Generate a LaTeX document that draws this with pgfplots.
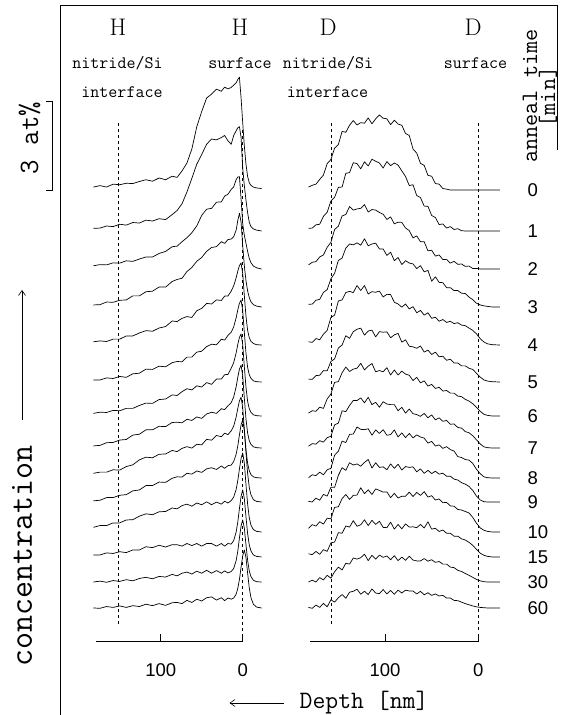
\documentclass[border=0pt]{standalone}
\usepackage{pgfplots}
\pgfplotsset{compat=1.18}
\usepackage{pgfplotstable}
\usepackage{fontspec}
\usetikzlibrary{arrows.meta}
\newfontfamily\numfont{Liberation Sans}

% H depth profiles: depth [nm], concentration [at%] for each anneal time
\pgfplotstableread{
d c0 c1 c2 c3 c4 c5 c6 c7 c8 c9 c10 c15 c30 c60
182 0.10 0.09 0.11 0.07 0.11 0.07 0.09 0.07 0.16 0.04 0.16 0.07 0.00 0.00
174 0.15 0.10 0.15 0.08 0.14 0.07 0.13 0.09 0.20 0.06 0.22 0.07 0.03 -0.01
166 0.10 0.17 0.14 0.17 0.12 0.14 0.12 0.18 0.20 0.15 0.22 0.14 -0.01 0.05
158 0.20 0.15 0.21 0.16 0.20 0.12 0.19 0.19 0.28 0.15 0.31 0.12 0.05 0.02
150 0.18 0.23 0.20 0.23 0.20 0.19 0.18 0.27 0.27 0.23 0.31 0.18 0.02 0.07
142 0.23 0.20 0.28 0.24 0.31 0.16 0.26 0.29 0.39 0.25 0.41 0.15 0.08 0.02
134 0.22 0.29 0.26 0.38 0.31 0.28 0.26 0.44 0.45 0.38 0.42 0.24 0.04 0.08
126 0.29 0.27 0.34 0.38 0.41 0.30 0.36 0.47 0.62 0.41 0.54 0.24 0.12 0.05
118 0.35 0.37 0.41 0.52 0.49 0.44 0.44 0.62 0.71 0.56 0.62 0.35 0.16 0.13
110 0.30 0.34 0.41 0.54 0.47 0.43 0.43 0.62 0.69 0.56 0.59 0.32 0.11 0.08
102 0.41 0.42 0.53 0.68 0.58 0.54 0.56 0.74 0.81 0.68 0.69 0.40 0.19 0.15
94 0.35 0.39 0.60 0.68 0.63 0.52 0.58 0.73 0.82 0.67 0.70 0.34 0.17 0.09
86 0.47 0.56 0.76 0.87 0.82 0.66 0.72 0.87 0.94 0.81 0.82 0.42 0.26 0.18
80 0.43 0.70 0.78 0.94 0.80 0.70 0.70 0.88 0.90 0.86 0.79 0.42 0.21 0.19
74 0.65 0.93 0.93 0.98 0.91 0.69 0.83 0.86 1.01 0.85 0.90 0.37 0.30 0.15
68 0.92 1.33 1.07 1.21 0.97 0.85 0.93 0.98 1.07 0.98 0.95 0.46 0.34 0.26
62 1.40 1.80 1.24 1.35 0.94 0.85 0.89 0.94 1.02 0.95 0.88 0.39 0.27 0.19
56 2.16 2.28 1.47 1.56 1.17 1.02 1.03 1.06 1.15 1.06 0.99 0.46 0.37 0.30
50 2.68 2.61 1.83 1.69 1.25 1.05 0.99 1.01 1.13 1.01 0.93 0.37 0.30 0.24
44 3.14 2.96 2.04 1.90 1.42 1.21 1.14 1.16 1.32 1.13 1.03 0.46 0.40 0.35
38 3.27 3.14 2.07 2.03 1.40 1.29 1.08 1.22 1.29 1.17 0.93 0.46 0.30 0.38
32 3.44 3.11 2.28 2.06 1.54 1.27 1.26 1.18 1.45 1.11 1.02 0.37 0.39 0.27
26 3.37 3.19 2.29 2.23 1.52 1.46 1.26 1.34 1.41 1.23 0.95 0.46 0.30 0.35
22 3.51 3.26 2.49 2.17 1.67 1.43 1.41 1.31 1.53 1.15 1.05 0.37 0.38 0.25
18 3.45 3.08 2.55 2.30 1.67 1.59 1.42 1.44 1.48 1.24 0.99 0.46 0.31 0.34
14 3.50 2.96 2.72 2.32 1.84 1.70 1.63 1.55 1.61 1.26 1.07 0.44 0.36 0.30
11 3.58 3.26 2.80 2.40 2.02 1.88 1.82 1.74 1.77 1.38 1.19 0.56 0.46 0.34
8 3.66 3.42 3.05 2.62 2.29 2.19 2.15 2.09 2.08 1.63 1.45 0.85 0.73 0.47
6 3.77 3.52 3.14 2.95 2.52 2.46 2.44 2.41 2.37 1.91 1.75 1.19 1.05 0.67
4 3.85 3.56 3.15 3.20 2.71 2.69 2.68 2.69 2.63 2.29 2.15 1.65 1.50 0.97
2 3.15 3.20 2.40 2.90 2.80 2.80 2.80 2.83 2.76 2.63 2.51 2.07 1.91 1.39
0 2.30 2.15 1.55 2.10 2.44 2.44 2.44 2.46 2.40 2.80 2.70 2.29 2.12 1.78
-2 1.50 1.55 1.15 1.40 1.68 1.68 1.68 1.70 1.66 2.44 2.35 1.99 1.84 1.98
-4 0.88 1.05 0.88 0.90 0.98 0.98 0.98 0.99 0.97 1.68 1.62 1.37 1.27 1.72
-6 0.46 0.62 0.60 0.55 0.50 0.50 0.50 0.51 0.50 0.98 0.95 0.80 0.74 1.19
-8 0.25 0.30 0.36 0.32 0.25 0.25 0.25 0.25 0.25 0.50 0.49 0.41 0.38 0.69
-10 0.16 0.15 0.22 0.18 0.13 0.13 0.13 0.13 0.12 0.25 0.24 0.21 0.19 0.36
-13 0.10 0.07 0.10 0.08 0.05 0.04 0.04 0.04 0.04 0.08 0.08 0.07 0.06 0.13
-17 0.07 0.03 0.04 0.03 0.01 0.01 0.01 0.01 0.01 0.02 0.02 0.02 0.01 0.03
-23 0.05 0.00 0.00 0.00 0.00 0.00 0.00 0.00 0.00 0.00 0.00 0.00 0.00 0.00
}\Htab

% D depth profiles
\pgfplotstableread{
d c0 c1 c2 c3 c4 c5 c6 c7 c8 c9 c10 c15 c30 c60
182 0.10 0.09 0.14 0.09 0.11 0.10 0.10 0.06 0.01 0.02 0.12 0.11 0.00 0.02
178 0.16 0.10 0.23 0.10 0.09 0.09 0.18 0.15 0.11 0.00 0.25 0.08 0.06 -0.01
174 0.20 0.21 0.25 0.23 0.22 0.22 0.16 0.13 0.08 0.13 0.20 0.19 0.00 0.10
170 0.36 0.23 0.41 0.26 0.18 0.23 0.30 0.25 0.20 0.06 0.35 0.09 0.15 0.02
166 0.51 0.50 0.48 0.50 0.37 0.39 0.26 0.20 0.11 0.26 0.27 0.25 0.07 0.16
162 0.90 0.64 0.74 0.59 0.50 0.38 0.58 0.35 0.28 0.20 0.47 0.19 0.23 0.04
158 1.04 1.02 0.91 0.96 0.94 0.70 0.75 0.40 0.33 0.50 0.45 0.48 0.13 0.28
154 1.43 1.15 1.35 1.15 1.02 0.79 1.15 0.79 0.78 0.50 0.84 0.51 0.35 0.20
150 1.55 1.49 1.46 1.59 1.50 1.16 1.17 0.85 0.91 0.91 0.86 0.83 0.51 0.35
146 2.00 1.50 1.81 1.67 1.54 1.26 1.48 1.27 1.26 1.17 1.14 0.81 0.41 0.46
142 1.97 1.97 1.86 2.01 1.79 1.58 1.67 1.24 1.21 1.08 1.28 1.06 0.64 0.33
138 2.21 1.99 2.13 2.15 1.83 1.49 1.52 1.45 1.49 1.34 1.11 1.02 0.61 0.54
134 2.37 2.33 2.01 2.12 1.79 1.72 1.60 1.62 1.50 1.26 1.25 1.24 0.82 0.57
130 2.22 2.30 2.05 2.19 2.03 1.80 1.63 1.62 1.74 1.30 1.26 1.05 0.78 0.64
126 2.30 2.12 2.07 2.11 1.86 1.84 1.80 1.71 1.66 1.22 1.51 1.10 0.83 0.47
122 2.28 2.36 2.20 2.33 2.03 1.60 1.57 1.54 1.65 1.35 1.31 1.27 0.95 0.57
118 2.46 2.22 1.94 2.09 1.74 1.74 1.70 1.73 1.68 1.45 1.44 1.07 0.73 0.46
114 2.26 2.45 2.03 2.15 1.82 1.77 1.79 1.48 1.46 1.16 1.28 1.25 0.91 0.65
110 2.43 2.38 2.01 2.18 1.80 1.54 1.51 1.56 1.64 1.34 1.47 1.11 0.78 0.51
106 2.56 2.32 1.93 1.98 1.84 1.72 1.55 1.39 1.52 1.18 1.42 1.22 0.92 0.49
102 2.45 2.15 1.87 1.98 1.64 1.70 1.51 1.58 1.65 1.20 1.36 1.01 0.84 0.63
98 2.43 2.37 1.69 1.76 1.73 1.71 1.65 1.50 1.46 1.10 1.37 1.00 0.89 0.48
94 2.23 2.23 1.78 1.87 1.72 1.51 1.40 1.48 1.48 1.30 1.17 1.19 0.76 0.60
90 2.38 2.32 1.54 1.58 1.46 1.61 1.57 1.48 1.64 1.15 1.32 0.95 0.90 0.47
86 2.25 2.25 1.60 1.69 1.40 1.66 1.40 1.27 1.40 1.29 1.16 1.11 0.73 0.61
82 2.21 2.05 1.59 1.45 1.29 1.36 1.53 1.39 1.54 1.09 1.22 0.96 0.85 0.51
78 1.93 1.86 1.40 1.58 1.40 1.44 1.43 1.19 1.38 1.21 1.22 1.13 0.74 0.61
74 1.86 1.55 1.31 1.50 1.23 1.22 1.39 1.33 1.52 1.18 1.36 1.02 0.88 0.58
70 1.40 1.58 1.06 1.47 1.31 1.20 1.21 1.17 1.37 1.20 1.21 1.03 0.75 0.58
66 1.26 1.21 1.13 1.31 1.10 1.15 1.32 1.14 1.47 1.03 1.35 1.00 0.72 0.48
62 0.91 1.14 0.93 1.41 1.18 1.23 1.13 1.08 1.40 1.13 1.25 1.11 0.72 0.57
58 0.84 0.85 0.93 1.20 1.02 1.02 1.20 1.18 1.36 0.98 1.38 0.99 0.80 0.45
54 0.50 0.84 0.62 1.25 1.10 1.09 1.02 1.03 1.19 1.08 1.19 1.20 0.71 0.52
50 0.47 0.53 0.64 0.88 0.91 0.94 1.08 1.13 1.25 0.97 1.24 0.95 0.76 0.43
46 0.22 0.46 0.44 1.03 0.95 1.02 0.94 0.96 1.09 1.05 1.09 0.98 0.67 0.48
42 0.20 0.22 0.48 0.84 0.81 0.86 0.98 1.03 1.13 0.95 1.13 0.87 0.70 0.41
38 0.05 0.24 0.32 0.83 0.87 0.88 0.85 0.91 1.01 0.98 1.00 0.92 0.61 0.43
34 0.03 0.10 0.33 0.66 0.77 0.74 0.87 0.94 1.07 0.88 1.01 0.81 0.61 0.34
30 0.00 0.15 0.20 0.66 0.81 0.78 0.78 0.81 0.97 0.88 0.89 0.81 0.51 0.34
26 0.00 0.05 0.26 0.56 0.73 0.65 0.78 0.82 0.92 0.78 0.88 0.71 0.49 0.26
22 0.00 0.08 0.16 0.56 0.76 0.65 0.68 0.70 0.73 0.75 0.77 0.71 0.40 0.25
18 0.00 0.01 0.17 0.47 0.68 0.55 0.66 0.68 0.70 0.66 0.75 0.62 0.36 0.20
14 0.00 0.00 0.09 0.46 0.66 0.55 0.57 0.56 0.63 0.61 0.70 0.58 0.29 0.15
10 0.00 0.00 0.10 0.34 0.58 0.47 0.51 0.52 0.61 0.53 0.65 0.50 0.23 0.11
6 0.00 0.00 0.02 0.25 0.50 0.43 0.42 0.42 0.50 0.40 0.50 0.40 0.16 0.07
2 0.00 0.00 0.02 0.13 0.38 0.30 0.30 0.28 0.30 0.20 0.30 0.26 0.09 0.04
-2 0.00 0.00 0.00 0.07 0.22 0.17 0.16 0.14 0.15 0.07 0.14 0.13 0.04 0.02
-6 0.00 0.00 0.00 0.04 0.10 0.07 0.06 0.04 0.04 0.01 0.06 0.06 0.01 0.01
-10 0.00 0.00 0.00 0.02 0.04 0.03 0.02 0.01 0.01 0.00 0.02 0.02 0.00 0.00
-15 0.00 0.00 0.00 0.00 0.01 0.01 0.00 0.00 0.00 0.00 0.00 0.00 0.00 0.00
-23 0.00 0.00 0.00 0.00 0.00 0.00 0.00 0.00 0.00 0.00 0.00 0.00 0.00 0.00
}\Dtab

\pgfplotsset{
  profile/.style={black, line width=0.7pt, line join=round, no markers},
  panel/.style={anchor=south west, scale only axis, height=715pt,
    x dir=reverse, xmin=-30, xmax=185, ymin=-3.652, ymax=20.751,
    axis lines=none, clip=false},
}
\newcommand{\numsize}{\numfont\fontsize{18.5}{20}\selectfont}

\begin{document}
\begin{tikzpicture}[x=1pt,y=1pt]
\path[use as bounding box] (0,0) rectangle (566,715);
% frame
\draw[line width=0.8pt] (60,0) -- (60,710) -- (557,710) -- (557,565);
% left label
\node[rotate=90, anchor=west, inner sep=0pt, font=\ttfamily\fontsize{33}{33}\selectfont] at (22,48) {concentration};
\draw[-{Straight Barb[length=5pt,width=7pt]}, line width=0.6pt] (22,295) -- (22,425);
% scale bar
\node[rotate=90, inner sep=0pt, font=\ttfamily\fontsize{28}{28}\selectfont] at (29.5,577) {3 at\%};
\draw[line width=0.7pt] (46,613.3) -- (52,613.3) -- (52,525) -- (46,525);
% titles
\node[font=\fontsize{24}{24}\selectfont] at (118,688) {H};
\node[font=\fontsize{24}{24}\selectfont] at (240,688) {H};
\node[font=\fontsize{24}{24}\selectfont] at (328,688) {D};
\node[font=\fontsize{24}{24}\selectfont] at (473,688) {D};
\node[font=\ttfamily\fontsize{17.5}{20}\selectfont] at (117.5,652) {nitride/Si};
\node[font=\ttfamily\fontsize{17.5}{20}\selectfont] at (122,623) {interface};
\node[font=\ttfamily\fontsize{17.5}{20}\selectfont] at (240,652) {surface};
\node[font=\ttfamily\fontsize{17.5}{20}\selectfont] at (328,652) {nitride/Si};
\node[font=\ttfamily\fontsize{17.5}{20}\selectfont] at (327.5,623) {interface};
\node[font=\ttfamily\fontsize{17.5}{20}\selectfont] at (475.5,652) {surface};
\node[rotate=90, font=\ttfamily\fontsize{23.5}{24}\selectfont] at (530,619) {anneal time};
\node[rotate=90, font=\ttfamily\fontsize{23.5}{24}\selectfont] at (548,618) {[min]};
% x label
\node[font=\ttfamily\fontsize{25}{25}\selectfont] at (364,12) {Depth [nm]};
\draw[-{Straight Barb[length=5pt,width=7pt]}, line width=0.6pt] (283.7,12) -- (229.5,12);

% ---------------- H panel ----------------
\begin{axis}[panel, at={(91pt,0pt)}, width=176.3pt]
\draw[dashed, line width=0.5pt] (axis cs:151.7,16.55) -- (axis cs:151.7,-0.58);
\draw[dashed, line width=0.5pt] (axis cs:0,16.3) -- (axis cs:0,-0.82);
\addplot[profile] table[x=d, y expr=\thisrow{c0}+14.266] {\Htab};
\addplot[profile] table[x=d, y expr=\thisrow{c1}+12.867] {\Htab};
\addplot[profile] table[x=d, y expr=\thisrow{c2}+11.570] {\Htab};
\addplot[profile] table[x=d, y expr=\thisrow{c3}+10.273] {\Htab};
\addplot[profile] table[x=d, y expr=\thisrow{c4}+8.976] {\Htab};
\addplot[profile] table[x=d, y expr=\thisrow{c5}+7.713] {\Htab};
\addplot[profile] table[x=d, y expr=\thisrow{c6}+6.553] {\Htab};
\addplot[profile] table[x=d, y expr=\thisrow{c7}+5.461] {\Htab};
\addplot[profile] table[x=d, y expr=\thisrow{c8}+4.437] {\Htab};
\addplot[profile] table[x=d, y expr=\thisrow{c9}+3.618] {\Htab};
\addplot[profile] table[x=d, y expr=\thisrow{c10}+2.594] {\Htab};
\addplot[profile] table[x=d, y expr=\thisrow{c15}+1.741] {\Htab};
\addplot[profile] table[x=d, y expr=\thisrow{c30}+0.887] {\Htab};
\addplot[profile] table[x=d, y expr=\thisrow{c60}+0] {\Htab};
% depth scale
\draw[line width=0.7pt] (axis cs:179,-1.15) -- (axis cs:0,-1.15);
\draw[line width=0.7pt] (axis cs:100,-1.15) -- (axis cs:100,-0.877);
\draw[line width=0.7pt] (axis cs:0,-1.15) -- (axis cs:0,-0.877);
\node[font=\numsize] at (axis cs:100,-2.116) {100};
\node[font=\numsize] at (axis cs:0,-2.116) {0};
\end{axis}

% ---------------- D panel ----------------
\begin{axis}[panel, at={(305.7pt,0pt)}, width=200.6pt]
\draw[dashed, line width=0.5pt] (axis cs:158,16.55) -- (axis cs:158,-0.58);
\draw[dashed, line width=0.5pt] (axis cs:0,16.55) -- (axis cs:0,-0.82);
\addplot[profile] table[x=d, y expr=\thisrow{c0}+14.266] {\Dtab};
\addplot[profile] table[x=d, y expr=\thisrow{c1}+12.867] {\Dtab};
\addplot[profile] table[x=d, y expr=\thisrow{c2}+11.570] {\Dtab};
\addplot[profile] table[x=d, y expr=\thisrow{c3}+10.273] {\Dtab};
\addplot[profile] table[x=d, y expr=\thisrow{c4}+8.976] {\Dtab};
\addplot[profile] table[x=d, y expr=\thisrow{c5}+7.713] {\Dtab};
\addplot[profile] table[x=d, y expr=\thisrow{c6}+6.553] {\Dtab};
\addplot[profile] table[x=d, y expr=\thisrow{c7}+5.461] {\Dtab};
\addplot[profile] table[x=d, y expr=\thisrow{c8}+4.437] {\Dtab};
\addplot[profile] table[x=d, y expr=\thisrow{c9}+3.618] {\Dtab};
\addplot[profile] table[x=d, y expr=\thisrow{c10}+2.594] {\Dtab};
\addplot[profile] table[x=d, y expr=\thisrow{c15}+1.741] {\Dtab};
\addplot[profile] table[x=d, y expr=\thisrow{c30}+0.887] {\Dtab};
\addplot[profile] table[x=d, y expr=\thisrow{c60}+0] {\Dtab};
% depth scale
\draw[line width=0.7pt] (axis cs:180,-1.15) -- (axis cs:0,-1.15);
\draw[line width=0.7pt] (axis cs:100,-1.15) -- (axis cs:100,-0.877);
\draw[line width=0.7pt] (axis cs:0,-1.15) -- (axis cs:0,-0.877);
\node[font=\numsize] at (axis cs:100,-2.116) {100};
\node[font=\numsize] at (axis cs:0,-2.116) {0};
% anneal times
\node[anchor=west, font=\numsize] at (axis cs:-49,14.266) {0};
\node[anchor=west, font=\numsize] at (axis cs:-49,12.867) {1};
\node[anchor=west, font=\numsize] at (axis cs:-49,11.570) {2};
\node[anchor=west, font=\numsize] at (axis cs:-49,10.273) {3};
\node[anchor=west, font=\numsize] at (axis cs:-49,8.976) {4};
\node[anchor=west, font=\numsize] at (axis cs:-49,7.713) {5};
\node[anchor=west, font=\numsize] at (axis cs:-49,6.553) {6};
\node[anchor=west, font=\numsize] at (axis cs:-49,5.461) {7};
\node[anchor=west, font=\numsize] at (axis cs:-49,4.437) {8};
\node[anchor=west, font=\numsize] at (axis cs:-49,3.618) {9};
\node[anchor=west, font=\numsize] at (axis cs:-49,2.594) {10};
\node[anchor=west, font=\numsize] at (axis cs:-49,1.741) {15};
\node[anchor=west, font=\numsize] at (axis cs:-49,0.887) {30};
\node[anchor=west, font=\numsize] at (axis cs:-49,0) {60};
\end{axis}
\end{tikzpicture}
\end{document}
